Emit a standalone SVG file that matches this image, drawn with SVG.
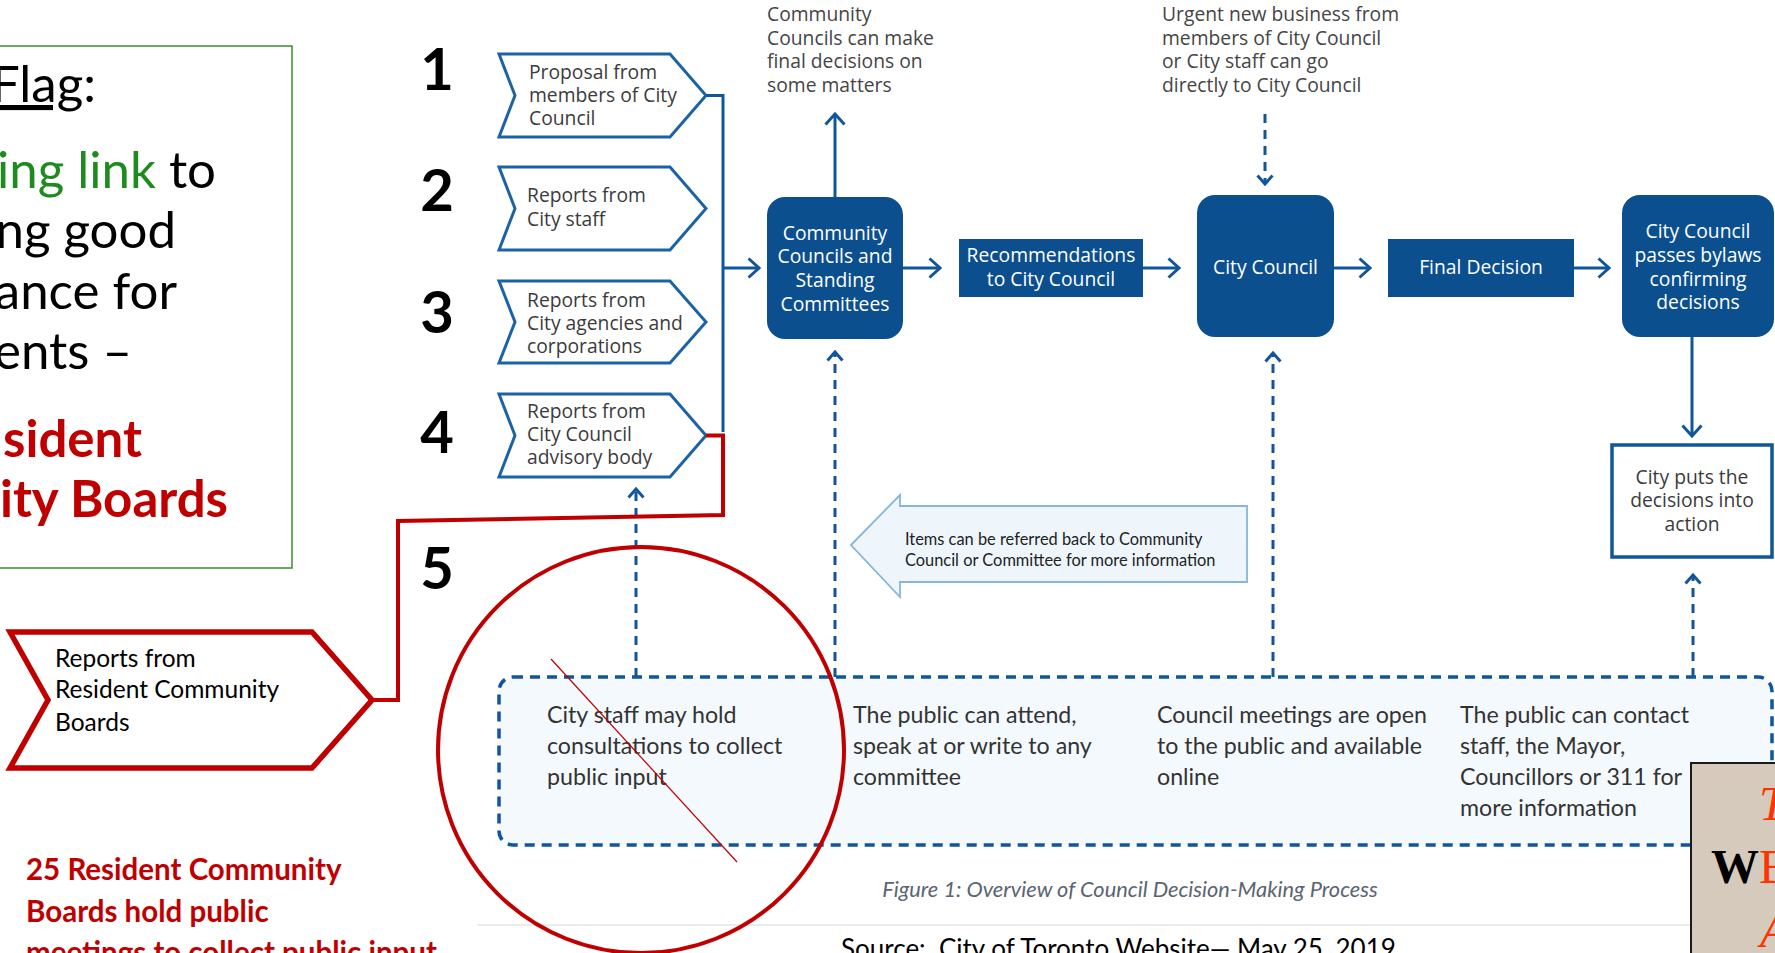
<svg xmlns="http://www.w3.org/2000/svg" width="1775" height="953" viewBox="0 0 1775 953">
<style>
.calibri{font-family:Lato,"Liberation Sans",sans-serif}
.gth{font-family:"Open Sans","Noto Sans",sans-serif;font-size:19.3px}
.chev{fill:#fff;stroke:#1b63a6;stroke-width:3}
.ctext{fill:#3b3b3b}
.ann{fill:#454545}
.bbox{fill:#0b4f8f}
.wt{fill:#fff;text-anchor:middle}
.num{font-family:Lato,"Liberation Sans",sans-serif;font-weight:700;font-size:58px;fill:#000;text-anchor:middle}
.solid{fill:none;stroke:#11569a;stroke-width:3}
.dash{fill:none;stroke:#11569a;stroke-width:3;stroke-dasharray:9 7}
.ptext{font-family:Lato,"Liberation Sans",sans-serif;font-size:23.2px;fill:#333}
.red{stroke:#c00000;fill:none}
</style>
<defs>
<marker id="ah" viewBox="0 0 14 22" refX="12" refY="11" markerWidth="14" markerHeight="22" markerUnits="userSpaceOnUse" orient="auto">
<path d="M1.5,1.5 L12,11 L1.5,20.5" fill="none" stroke="#11569a" stroke-width="3"/>
</marker>
<marker id="ahs" viewBox="0 0 12 18" refX="10" refY="9" markerWidth="12" markerHeight="18" markerUnits="userSpaceOnUse" orient="auto">
<path d="M1.5,1.5 L10,9 L1.5,16.5" fill="none" stroke="#11569a" stroke-width="3"/>
</marker>
</defs>
<rect width="1775" height="953" fill="#fff"/>

<g id="redflag-box">
<rect x="-10" y="46" width="302" height="522" fill="#fff" stroke="#3a8f2a" stroke-width="1.5"/>
<g class="calibri" font-size="51" text-anchor="end">
<text x="96" y="102" fill="#000"><tspan text-decoration="underline">Flag</tspan>:</text>
<text x="216" y="188"><tspan fill="#1f8a1f">ing link</tspan><tspan fill="#000"> to</tspan></text>
<text x="176" y="248" fill="#000">ng good</text>
<text x="177" y="309" fill="#000">ance for</text>
<text x="132" y="369" fill="#000">ents –</text>
<text x="142" y="457" fill="#c00000" font-weight="700">sident</text>
<text x="228" y="517" fill="#c00000" font-weight="700">ity Boards</text>
</g>
</g>

<g id="numbers">
<text class="num" x="437" y="90">1</text>
<text class="num" x="437" y="211">2</text>
<text class="num" x="437" y="333">3</text>
<text class="num" x="437" y="453">4</text>
<text class="num" x="437" y="589">5</text>
</g>

<g id="annot-community" class="gth ann">
<text x="767" y="21">Community</text>
<text x="767" y="44.5">Councils can make</text>
<text x="767" y="68">final decisions on</text>
<text x="767" y="91.5">some matters</text>
</g>
<g id="annot-urgent" class="gth ann">
<text x="1162" y="21">Urgent new business from</text>
<text x="1162" y="44.5">members of City Council</text>
<text x="1162" y="68">or City staff can go</text>
<text x="1162" y="91.5">directly to City Council</text>
</g>

<g id="chevron1">
<path class="chev" d="M499,54 L670,54 L706,95.5 L670,137 L499,137 L515,95.5 Z"/>
<g class="gth ctext"><text x="529" y="79">Proposal from</text><text x="529" y="102">members of City</text><text x="529" y="125">Council</text></g>
</g>
<g id="chevron2">
<path class="chev" d="M499,167 L670,167 L706,208.5 L670,250 L499,250 L515,208.5 Z"/>
<g class="gth ctext"><text x="527" y="201.5">Reports from</text><text x="527" y="225.5">City staff</text></g>
</g>
<g id="chevron3">
<path class="chev" d="M499,281 L670,281 L706,322 L670,363 L499,363 L515,322 Z"/>
<g class="gth ctext"><text x="527" y="307">Reports from</text><text x="527" y="330">City agencies and</text><text x="527" y="353">corporations</text></g>
</g>
<g id="chevron4">
<path class="chev" d="M499,394 L670,394 L706,435.5 L670,477 L499,477 L515,435.5 Z"/>
<g class="gth ctext"><text x="527" y="418">Reports from</text><text x="527" y="441">City Council</text><text x="527" y="464">advisory body</text></g>
</g>

<g id="node-public">
<rect x="499" y="677" width="1273" height="168" rx="14" fill="#f3f9fd" stroke="#11569a" stroke-width="3.5" stroke-dasharray="10 7"/>
<g class="ptext">
<text x="547" y="723">City staff may hold</text>
<text x="547" y="754">consultations to collect</text>
<text x="547" y="785">public input</text>
<text x="853" y="723">The public can attend,</text>
<text x="853" y="754">speak at or write to any</text>
<text x="853" y="785">committee</text>
<text x="1157" y="723">Council meetings are open</text>
<text x="1157" y="754">to the public and available</text>
<text x="1157" y="785">online</text>
<text x="1460" y="723">The public can contact</text>
<text x="1460" y="754">staff, the Mayor,</text>
<text x="1460" y="785">Councillors or 311 for</text>
<text x="1460" y="816">more information</text>
</g>
</g>

<g id="connectors">
<path class="solid" d="M706,95.5 H723 V432"/>
<path class="solid" d="M723,268 H759" marker-end="url(#ah)"/>
<path class="solid" d="M903,268 H940" marker-end="url(#ah)"/>
<path class="solid" d="M1143,268 H1179" marker-end="url(#ah)"/>
<path class="solid" d="M1334,268 H1370" marker-end="url(#ah)"/>
<path class="solid" d="M1574,268 H1609" marker-end="url(#ah)"/>
<path class="solid" d="M835,197 V114" marker-end="url(#ah)"/>
<path class="solid" d="M1692,337 V436" marker-end="url(#ah)"/>
<path class="dash" d="M1265,114 V184" marker-end="url(#ahs)"/>
<path class="dash" d="M636,677 V489" marker-end="url(#ahs)"/>
<path class="dash" d="M835,677 V352" marker-end="url(#ahs)"/>
<path class="dash" d="M1273,677 V353" marker-end="url(#ahs)"/>
<path class="dash" d="M1693,677 V575" marker-end="url(#ahs)"/>
</g>

<g id="node-ccsc">
<rect class="bbox" x="767" y="197" width="136" height="142" rx="18"/>
<g class="gth wt"><text x="835" y="239.5">Community</text><text x="835" y="263">Councils and</text><text x="835" y="287">Standing</text><text x="835" y="310.5">Committees</text></g>
</g>
<g id="node-rec">
<rect class="bbox" x="959" y="239" width="184" height="58"/>
<g class="gth wt"><text x="1051" y="261.5">Recommendations</text><text x="1051" y="285.5">to City Council</text></g>
</g>
<g id="node-council">
<rect class="bbox" x="1197" y="195" width="137" height="142" rx="18"/>
<text class="gth wt" x="1265.5" y="274">City Council</text>
</g>
<g id="node-final">
<rect class="bbox" x="1388" y="239" width="186" height="58"/>
<text class="gth wt" x="1481" y="274">Final Decision</text>
</g>
<g id="node-bylaws">
<rect class="bbox" x="1622" y="195" width="152" height="142" rx="18"/>
<g class="gth wt"><text x="1698" y="238">City Council</text><text x="1698" y="262">passes bylaws</text><text x="1698" y="286">confirming</text><text x="1698" y="309">decisions</text></g>
</g>
<g id="node-action">
<rect x="1612" y="445" width="160" height="112" fill="#fff" stroke="#11569a" stroke-width="3.5"/>
<g class="gth ctext" text-anchor="middle"><text x="1692" y="484">City puts the</text><text x="1692" y="507">decisions into</text><text x="1692" y="531">action</text></g>
</g>

<g id="node-backarrow">
<path d="M851,545 L900,495 L900,506 L1247,506 L1247,582 L900,582 L900,597 Z" fill="#eef6fc" stroke="#86b6da" stroke-width="1.8"/>
<g class="calibri" font-size="16.4" fill="#222"><text x="905" y="545">Items can be referred back to Community</text><text x="905" y="565.5">Council or Committee for more information</text></g>
</g>

<g id="caption">
<text x="1130" y="897" text-anchor="middle" font-family="Lato,'Liberation Sans',sans-serif" font-style="italic" font-size="21.8" fill="#5a6472">Figure 1: Overview of Council Decision-Making Process</text>
<line x1="477" y1="925" x2="1690" y2="925" stroke="#e6e6e6" stroke-width="1.5"/>
<text x="841" y="958" xml:space="preserve" font-family="Lato,'Liberation Sans',sans-serif" font-size="26" fill="#000">Source:  City of Toronto Website— May 25, 2019</text>
</g>

<g id="node-rcb">
<path d="M10,632 L312,632 L372,700 L312,768 L10,768 L48,700 Z" fill="#fff" stroke="#c00000" stroke-width="5.5"/>
<g class="calibri" font-size="24.5" fill="#000"><text x="55" y="667">Reports from</text><text x="55" y="698">Resident Community</text><text x="55" y="731">Boards</text></g>
</g>

<g id="red-marks">
<path class="red" stroke-width="4" d="M706,435.5 H723 V515 L398,521 V700 H372"/>
<ellipse class="red" cx="641" cy="750" rx="203" ry="203" stroke-width="4"/>
<line x1="551" y1="659" x2="737" y2="862" stroke="#c00000" stroke-width="1.2"/>
</g>

<g id="red-note" class="calibri" font-size="29.5" font-weight="700" fill="#c00000">
<text x="26" y="880">25 Resident Community</text>
<text x="26" y="921.5">Boards hold public</text>
<text x="26" y="963">meetings to collect public input</text>
</g>

<g id="beige-box">
<rect x="1691" y="763" width="100" height="200" fill="#d5cabb" stroke="#1a1a1a" stroke-width="2"/>
<text x="1759" y="820" font-family="'Liberation Serif',serif" font-style="italic" font-size="48" fill="#ff3300">T</text>
<text x="1711" y="883" font-family="'Liberation Serif',serif" font-weight="700" font-size="48"><tspan fill="#000">W</tspan><tspan fill="#ff3300" font-weight="400">E</tspan></text>
<text x="1760" y="947" font-family="'Liberation Serif',serif" font-style="italic" font-size="48" fill="#ff3300">A</text>
</g>
</svg>
